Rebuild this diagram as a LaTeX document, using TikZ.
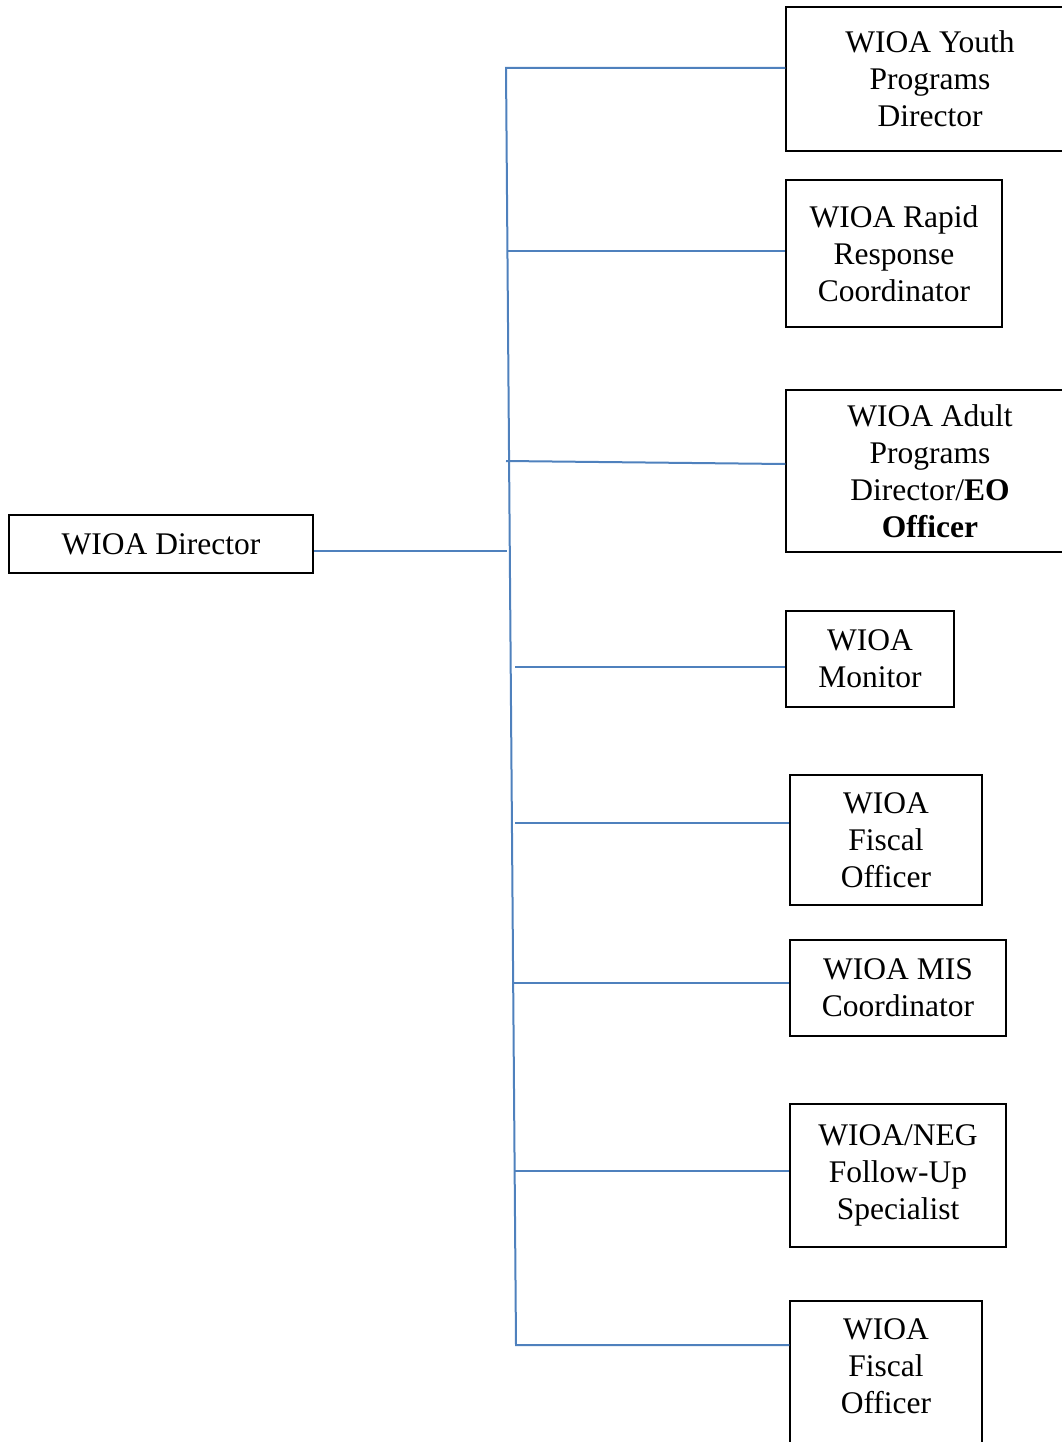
\documentclass[tikz,border=0pt]{standalone}
\usepackage{fontspec}
\setmainfont{Liberation Serif}
\usetikzlibrary{calc}
\definecolor{linkblue}{RGB}{79,129,189}

\begin{document}
\begin{tikzpicture}[x=1pt,y=-1pt,
  box/.style={draw,line width=1.5pt,align=center,inner sep=0pt,
    font=\fontsize{31.5}{37}\selectfont},
  link/.style={draw=linkblue,line width=2pt}]
\useasboundingbox (0,0) rectangle (1061,1442);
%---------------- director (left)
\node[box,minimum width=304,minimum height=58] (dir) at (161,544) {WIOA Director};
%---------------- staff boxes (right)
\node[box,minimum width=288,minimum height=144] (yth) at (930,79)
  {WIOA Youth\\Programs\\Director};
\node[box,minimum width=216,minimum height=147] (rapid) at (894,253.5)
  {WIOA Rapid\\Response\\Coordinator};
\node[box,minimum width=288,minimum height=162] (adult) at (930,471)
  {WIOA Adult\\Programs\\Director/\textbf{EO}\\\textbf{Officer}};
\node[box,minimum width=168,minimum height=96] (monitor) at (870,659)
  {WIOA\\Monitor};
\node[box,minimum width=192,minimum height=130] (fiscal) at (886,840)
  {WIOA\\Fiscal\\Officer};
\node[box,minimum width=216,minimum height=96] (mis) at (898,988)
  {WIOA MIS\\Coordinator};
\node[box,minimum width=216,minimum height=143] (neg) at (898,1175.5)
  {WIOA/NEG\\Follow-Up\\Specialist};
\node[box,minimum width=192,minimum height=168] (fiscalb) at (886,1385)
  {WIOA\\Fiscal\\Officer\\~};
%---------------- spine points
\coordinate (b1) at (506,68);
\coordinate (b2) at (507,251);
\coordinate (b3) at (506,461);
\coordinate (bd) at (507,551);
\coordinate (b4) at (515,667);
\coordinate (b5) at (515,823);
\coordinate (b6) at (514,983);
\coordinate (b7) at (515,1171);
\coordinate (b8) at (516,1345);
% spine with top and bottom branches
\draw[link] (b1 -| yth.west) -- (b1) -- (b8) -- (b8 -| fiscalb.west);
% other branches
\draw[link] (b2) -- (b2 -| rapid.west);
\draw[link] (b3) -- ($(adult.west)+(0,-7)$);
\draw[link] (b4) -- (b4 -| monitor.west);
\draw[link] (b5) -- (b5 -| fiscal.west);
\draw[link] (b6) -- (b6 -| mis.west);
\draw[link] (b7) -- (b7 -| neg.west);
% director link
\draw[link] (dir.east |- bd) -- (bd);
\end{tikzpicture}
\end{document}
